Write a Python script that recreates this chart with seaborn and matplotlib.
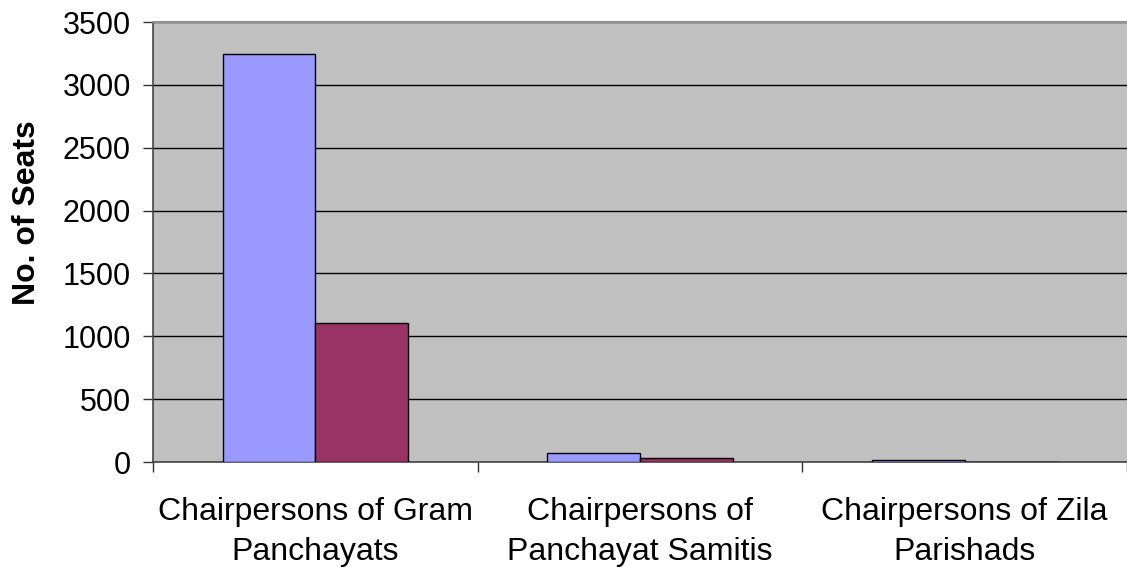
import matplotlib
matplotlib.use("Agg")
import matplotlib.pyplot as plt
import seaborn as sns
import pandas as pd
from matplotlib.ticker import FixedLocator

categories = ["Chairpersons of Gram\nPanchayats",
              "Chairpersons of\nPanchayat Samitis",
              "Chairpersons of Zila\nParishads"]
series_names = ["Series 1", "Series 2"]
series1 = [3245, 70, 19]
series2 = [1105, 35, 0]
y_ticks = [0, 500, 1000, 1500, 2000, 2500, 3000, 3500]

df = pd.DataFrame({
    "category": categories * 2,
    "series": [series_names[0]] * 3 + [series_names[1]] * 3,
    "value": series1 + series2,
})

sns.set_theme(style="white")
plt.rcParams['font.family'] = ['Liberation Sans', 'DejaVu Sans']
plt.rcParams['text.color'] = 'black'
plt.rcParams['axes.labelcolor'] = 'black'
plt.rcParams['xtick.color'] = 'black'
plt.rcParams['ytick.color'] = 'black'

fig = plt.figure(figsize=(11.27, 5.69), dpi=100)
ax = fig.add_axes([0.1358, 0.188, 1 - 0.1358, 0.9613 - 0.188])
ax.set_facecolor("#C0C0C0")
ax.set_axisbelow(True)

sns.barplot(data=df, x="category", y="value", hue="series",
            palette=["#9999FF", "#993366"], width=0.572,
            edgecolor="black", linewidth=1.0, saturation=1,
            legend=False, ax=ax, zorder=3)

ax.set_ylim(0, 3500)
ax.set_xlim(-0.5, 2.5)
ax.set_yticks(y_ticks)
ax.yaxis.grid(True, color="black", linewidth=1.0)
ax.xaxis.grid(False)

ax.tick_params(axis="y", which="major", direction="out", length=7,
               width=1, color="#333333", labelcolor="black", labelsize=22,
               pad=9, left=True)
ax.tick_params(axis="x", which="major", length=0, labelsize=23, pad=25,
               labelcolor="black")
ax.xaxis.set_minor_locator(FixedLocator([-0.5, 0.5, 1.5, 2.5]))
ax.tick_params(axis="x", which="minor", direction="out", length=7,
               width=1, color="#333333", bottom=True)
for lbl in ax.get_xticklabels():
    lbl.set_linespacing(1.45)

ax.set_xlabel("")
ax.set_ylabel("No. of Seats", fontsize=23, fontweight="bold", color="black")
ax.yaxis.set_label_coords(-0.114, 0.566)

for side in ["left", "bottom"]:
    ax.spines[side].set_color("#444444")
    ax.spines[side].set_linewidth(1.2)
ax.spines["top"].set_color("#909090")
ax.spines["top"].set_linewidth(1.5)
ax.spines["right"].set_visible(False)

fig.savefig("out.png", dpi=100)
